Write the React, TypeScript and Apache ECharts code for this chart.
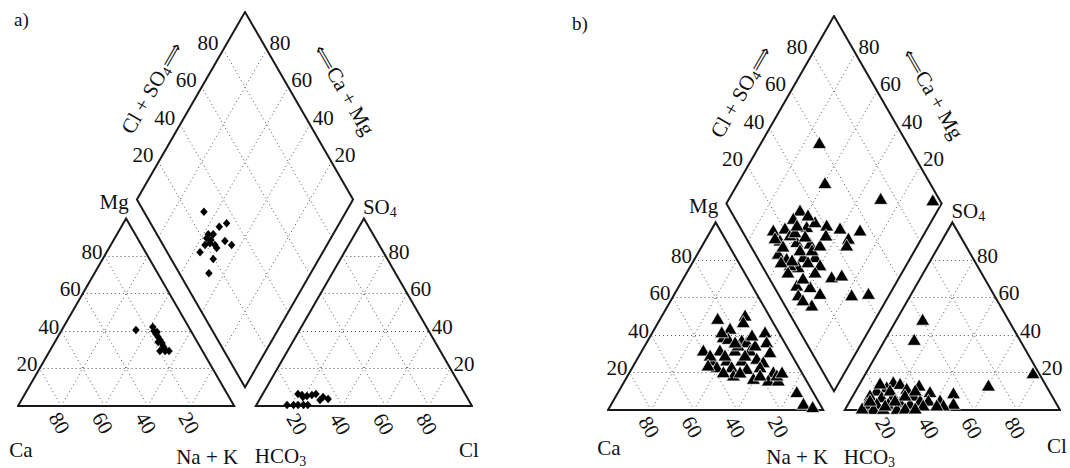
import React, { useEffect, useRef } from "react";
import * as echarts from "echarts";

const TICKS = [20, 40, 60, 80];

// ---------- panel a ----------
// cation triangle: Na+K %, Mg % (Ca = remainder)
const A_CAT_NAK = [34.3, 41.3, 42.9, 44.6, 46.4, 44.6, 48.1, 49.8, 51.1, 51.0, 53.4, 55.2, 52.1, 47.8];
const A_CAT_MG = [40.5, 42.1, 40.0, 38.4, 36.8, 39.4, 35.2, 33.6, 32.0, 29.3, 29.3, 29.3, 30.9, 34.1];
// anion triangle: Cl %, SO4 % (HCO3 = remainder)
const A_AN_CL = [16.3, 19.4, 23.0, 28.1, 31.6, 14.2, 19.3, 23.8, 28.7, 18.4, 21.0, 24.6, 17.2, 21.8];
const A_AN_SO4 = [6.4, 4.8, 5.9, 3.2, 3.7, 0.5, 0.5, 0.5, 4.8, 5.9, 5.3, 6.4, 0.5, 0.5];
// diamond: Ca+Mg %, Cl+SO4 %
const A_DI_CAMG = [65.8, 54.7, 52.2, 57.8, 55.5, 57.4, 55.0, 56.4, 51.8, 48.3, 44.1, 56.8, 50.2, 48.9, 47.1, 54.6];
const A_DI_CLSO4 = [27.8, 30.9, 35.2, 23.8, 26.1, 22.0, 23.5, 19.4, 24.0, 29.7, 31.7, 15.2, 24.0, 19.5, 13.7, 22.1];

// ---------- panel b ----------
const B_CAT_NAK = [26.5, 38.4, 39.3, 34.9, 52.1, 34.0, 36.8, 43.5, 46.3, 55.5, 28.3, 36.0, 43.0, 50.0, 59.7, 35.6, 41.8, 48.8, 55.3, 59.3, 39.0, 45.9, 53.4, 59.1, 66.6, 59.1, 66.5, 71.1, 82.8, 89.0, 94.2, 32.0, 48.9, 43.4, 69.1, 32.8, 43.1, 51.0, 40.9, 46.9, 39.7, 49.0, 61.3, 51.2, 34.5, 70.7];
const B_CAT_MG = [48.9, 50.6, 47.1, 43.6, 41.7, 39.1, 38.2, 37.3, 36.4, 36.4, 32.0, 32.0, 32.0, 32.0, 31.1, 26.7, 26.7, 26.7, 27.6, 25.7, 23.1, 23.1, 22.2, 23.1, 20.4, 16.9, 16.0, 16.0, 9.8, 3.6, 1.8, 41.7, 18.7, 20.4, 18.7, 29.3, 34.7, 34.7, 36.3, 40.0, 29.3, 29.3, 18.7, 20.3, 24.0, 20.3];
const B_AN_CL = [12.0, 13.4, 77.5, 60.1, 27.9, 45.9, 48.7, 34.7, 41.6, 44.5, 15.0, 18.6, 13.3, 9.5, 7.7, 23.0, 27.9, 13.6, 18.6, 8.4, 13.1, 18.4, 23.5, 28.5, 32.4, 36.2, 41.4, 35.1, 12.9, 17.5, 23.8, 27.5, 7.5, 9.2, 15.7, 24.0, 20.7, 9.1, 27.4, 17.4, 32.2];
const B_AN_SO4 = [48.4, 37.7, 19.9, 13.3, 13.3, 9.2, 3.6, 9.8, 5.3, 2.7, 15.1, 14.2, 12.4, 10.7, 8.0, 11.6, 8.0, 7.1, 8.0, 3.6, 3.6, 3.6, 4.4, 3.6, 5.3, 5.3, 2.7, 2.7, 0.9, 0.9, 0.9, 1.1, 1.1, 14.4, 10.7, 8.0, 5.3, 5.3, 10.7, 2.7, 1.1];
const B_DI_CAMG = [73.1, 59.8, 29.7, 5.1, 64.1, 65.0, 71.2, 66.3, 56.6, 54.0, 47.7, 40.7, 30.9, 34.1, 33.1, 65.4, 57.2, 50.6, 62.7, 57.4, 50.1, 44.7, 40.2, 49.8, 31.6, 27.4, 45.6, 39.0, 32.6, 17.5, 10.1, 33.3, 42.3, 62.1, 53.5, 54.1, 68.3, 62.4, 60.6, 54.8, 47.9, 53.2, 44.6, 40.6, 46.6, 54.5, 45.5, 59.1, 61.5, 59.1, 38.8, 45.4];
const B_DI_CLSO4 = [59.5, 51.4, 73.1, 96.9, 32.5, 27.2, 14.8, 20.7, 31.2, 36.4, 40.9, 46.3, 55.1, 47.5, 44.9, 15.2, 22.6, 28.4, 10.9, 13.4, 21.7, 27.1, 27.2, 16.6, 29.4, 34.6, 11.0, 16.8, 19.6, 33.9, 42.1, 12.7, 9.1, 21.3, 21.9, 13.3, 13.5, 15.0, 24.4, 28.0, 27.5, 10.4, 15.8, 23.0, 22.4, 15.5, 32.5, 9.9, 27.1, 34.9, 9.9, 37.9];

// ---------- geometry (Piper units: triangle side 100) ----------
const H = Math.sqrt(3) / 2;
const GAP = 10;
const XMAX = 200 + GAP;
const YMAX = (200 + GAP) * H;

const cat = (nak: number, mg: number) => [nak + mg / 2, mg * H];
const an = (cl: number, so4: number) => [100 + GAP + cl + so4 / 2, so4 * H];
const dia = (camg: number, clso4: number) => [100 + GAP / 2 + (clso4 - camg) / 2, GAP * H + (camg + clso4) * H];

const FONT = "'Liberation Serif', 'DejaVu Serif', serif";
const INK = "#111";
const RICH = {
  s: { fontSize: 14, lineHeight: 10, verticalAlign: "bottom", fontFamily: FONT, fill: INK },
  a: { fontSize: 18, lineHeight: 24, fontFamily: "'DejaVu Sans', sans-serif", fill: INK },
};

const PANELS = [
  {
    title: "a)", titleLeft: 9, titleTop: 5,
    left: 18, top: 12, width: 454, height: 394,
    symbol: "diamond", symbolSize: [7.5, 8.5], border: 0,
    catNak: A_CAT_NAK, catMg: A_CAT_MG, anCl: A_AN_CL, anSo4: A_AN_SO4, diCaMg: A_DI_CAMG, diClSo4: A_DI_CLSO4,
    ca: [3, 44], nak: [4, 51], hco3: [-1, 50], cl: [-3, 44],
  },
  {
    title: "b)", titleLeft: 567, titleTop: 9,
    left: 608, top: 16, width: 452, height: 394,
    symbol: "triangle", symbolSize: [14, 12], border: 0.7,
    catNak: B_CAT_NAK, catMg: B_CAT_MG, anCl: B_AN_CL, anSo4: B_AN_SO4, diCaMg: B_DI_CAMG, diClSo4: B_DI_CLSO4,
    ca: [1, 38], nak: [5, 47], hco3: [-1, 47], cl: [-3, 36],
  },
];

function gridSegments() {
  const segs: number[][][] = [];
  for (const v of TICKS) {
    segs.push([cat(0, v), cat(100 - v, v)]);
    segs.push([cat(v, 0), cat(v, 100 - v)]);
    segs.push([cat(100 - v, 0), cat(0, 100 - v)]);
    segs.push([an(0, v), an(100 - v, v)]);
    segs.push([an(v, 0), an(v, 100 - v)]);
    segs.push([an(100 - v, 0), an(0, 100 - v)]);
    segs.push([dia(v, 0), dia(v, 100)]);
    segs.push([dia(0, v), dia(100, v)]);
  }
  return segs.map((c) => ({ coords: c }));
}

function outlines() {
  return [
    [cat(0, 0), cat(100, 0), cat(0, 100), cat(0, 0), cat(100, 0)],
    [an(0, 0), an(100, 0), an(0, 100), an(0, 0), an(100, 0)],
    [dia(0, 0), dia(100, 0), dia(100, 100), dia(0, 100), dia(0, 0), dia(100, 0)],
  ].map((c) => ({ coords: c }));
}

type Lbl = { pos: number[]; text: string; dx: number; dy: number; align: string; va: string; rotate: number; size: number };

function labelDefs(p: any): Lbl[] {
  const items: Lbl[] = [];
  const t = (pos: number[], text: string, dx: number, dy: number, align: string, va: string, rotate = 0, size = 21) =>
    items.push({ pos, text, dx, dy, align, va, rotate, size });
  for (const v of TICKS) {
    t(cat(0, v), String(v), -2, -4, "right", "middle");
    t(cat(100 - v, 0), String(v), -2, 17, "center", "middle", -60);
    t(an(100 - v, v), String(v), 3, -4, "left", "middle");
    t(an(v, 0), String(v), -2, 18, "center", "middle", -60);
    t(dia(100, v), String(v), -5, -7, "right", "middle");
    t(dia(v, 100), String(v), 3, -7, "left", "middle");
  }
  t(dia(100, 50), "Cl + SO{s|4}{a|⟹}", -39, -18, "center", "middle", 60);
  t(dia(50, 100), "{a|⟸}Ca + Mg", 45, -16, "center", "middle", -60);
  t(cat(0, 100), "Mg", -12, -16, "center", "middle");
  t(an(0, 100), "SO{s|4}", -1, -11, "left", "middle");
  t(cat(0, 0), "Ca", p.ca[0], p.ca[1], "center", "middle");
  t(cat(100, 0), "Na + K", p.nak[0], p.nak[1], "right", "middle");
  t(an(0, 0), "HCO{s|3}", p.hco3[0], p.hco3[1], "left", "middle");
  t(an(100, 0), "Cl", p.cl[0], p.cl[1], "center", "middle");
  return items;
}

function buildOption() {
  const grid: any[] = [];
  const xAxis: any[] = [];
  const yAxis: any[] = [];
  const series: any[] = [];
  const title: any[] = [];
  PANELS.forEach((p, i) => {
    grid.push({ left: p.left, top: p.top, width: p.width, height: p.height, containLabel: false });
    xAxis.push({ gridIndex: i, type: "value", min: 0, max: XMAX, show: false });
    yAxis.push({ gridIndex: i, type: "value", min: 0, max: YMAX, show: false });
    title.push({
      text: p.title, left: p.titleLeft, top: p.titleTop,
      textStyle: { fontFamily: FONT, fontSize: 19, fontWeight: "normal", color: INK },
    });
    const ax = { xAxisIndex: i, yAxisIndex: i };
    series.push({
      type: "lines", coordinateSystem: "cartesian2d", ...ax, silent: true,
      data: gridSegments(),
      lineStyle: { color: "#555", width: 1, type: [1, 3], opacity: 1 },
      z: 1,
    });
    series.push({
      type: "lines", coordinateSystem: "cartesian2d", ...ax, silent: true, polyline: true,
      data: outlines(),
      lineStyle: { color: "#1a1a1a", width: 2, type: "solid", opacity: 1, join: "miter" },
      z: 2,
    });
    const mk = (data: number[][]) => ({
      type: "scatter", ...ax, silent: true, data,
      symbol: p.symbol, symbolSize: p.symbolSize,
      itemStyle: { color: "#000", borderColor: "#fff", borderWidth: p.border, opacity: 1 },
      z: 3,
    });
    series.push(mk(p.catNak.map((v, k) => cat(v, p.catMg[k]))));
    series.push(mk(p.anCl.map((v, k) => an(v, p.anSo4[k]))));
    series.push(mk(p.diCaMg.map((v, k) => dia(v, p.diClSo4[k]))));
  });
  return { animation: false, backgroundColor: "#fff", title, grid, xAxis, yAxis, series };
}

function buildGraphic(chart: any) {
  const els: any[] = [];
  PANELS.forEach((p, i) => {
    for (const d of labelDefs(p)) {
      const px = chart.convertToPixel({ gridIndex: i }, d.pos);
      if (!px) continue;
      els.push({
        type: "text",
        x: px[0] + d.dx,
        y: px[1] + d.dy,
        rotation: (d.rotate * Math.PI) / 180,
        silent: true,
        z: 10,
        style: {
          text: d.text,
          fontSize: d.size,
          fontFamily: FONT,
          fill: INK,
          align: d.align,
          verticalAlign: d.va,
          lineHeight: 24,
          rich: RICH,
        },
      });
    }
  });
  return els;
}

export default function App() {
  const ref = useRef<HTMLDivElement>(null);
  useEffect(() => {
    if (!ref.current) return;
    const chart = echarts.init(ref.current, null, { renderer: "svg" });
    chart.setOption(buildOption() as any);
    chart.setOption({ graphic: buildGraphic(chart) } as any);
    return () => chart.dispose();
  }, []);
  return (
    <div
      ref={ref}
      style={{ position: "fixed", left: 0, top: 0, width: 1070, height: 468, background: "#fff" }}
    />
  );
}
